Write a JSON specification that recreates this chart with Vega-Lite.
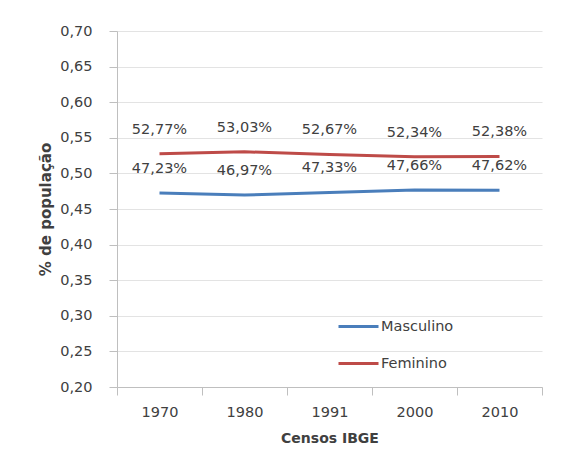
{
  "$schema": "https://vega.github.io/schema/vega-lite/v6.json",
  "width": 425,
  "height": 356,
  "autosize": {"type": "none"},
  "padding": {"left": 117, "top": 31, "right": 20, "bottom": 79},
  "background": "white",
  "config": {
    "locale": {"number": {"decimal": ",", "thousands": ".", "grouping": [3], "currency": ["R$", ""]}},
    "view": {"stroke": null},
    "font": "DejaVu Sans",
    "axis": {"labelFont": "DejaVu Sans", "labelFontSize": 14.5, "labelColor": "#404040", "titleFont": "DejaVu Sans", "titleFontSize": 14, "titleFontWeight": "bold", "titleColor": "#404040", "domainColor": "#BFBFBF", "tickColor": "#BFBFBF", "gridColor": "#E3E3E3"}
  },
  "data": {"values": [
    {"ano": "1970", "sexo": "Masculino", "valor": 0.4723},
    {"ano": "1980", "sexo": "Masculino", "valor": 0.4697},
    {"ano": "1991", "sexo": "Masculino", "valor": 0.4733},
    {"ano": "2000", "sexo": "Masculino", "valor": 0.4766},
    {"ano": "2010", "sexo": "Masculino", "valor": 0.4762},
    {"ano": "1970", "sexo": "Feminino", "valor": 0.5277},
    {"ano": "1980", "sexo": "Feminino", "valor": 0.5303},
    {"ano": "1991", "sexo": "Feminino", "valor": 0.5267},
    {"ano": "2000", "sexo": "Feminino", "valor": 0.5234},
    {"ano": "2010", "sexo": "Feminino", "valor": 0.5238}
  ]},
  "encoding": {
    "x": {"field": "ano", "type": "ordinal", "bandPosition": 0.5,
      "scale": {"type": "band", "paddingInner": 0, "paddingOuter": 0},
      "axis": {"title": "Censos IBGE", "labelAngle": 0, "tickBand": "extent", "tickSize": 8, "labelPadding": 10, "titlePadding": 13, "grid": false}},
    "y": {"field": "valor", "type": "quantitative",
      "scale": {"domain": [0.2, 0.7], "nice": false, "zero": false},
      "axis": {"title": "% de população", "titleFontSize": 15, "values": [0.2, 0.25, 0.3, 0.35, 0.4, 0.45, 0.5, 0.55, 0.6, 0.65, 0.7], "format": ".2f", "tickSize": 8, "labelPadding": 17, "titlePadding": 6, "grid": true}}
  },
  "layer": [
    {
      "mark": {"type": "line", "strokeWidth": 3},
      "encoding": {
        "color": {"field": "sexo", "type": "nominal",
          "scale": {"domain": ["Masculino", "Feminino"], "range": ["#4A7EBB", "#BE4B48"]},
          "legend": {"title": null, "orient": "none", "legendX": 220, "legendY": 274, "symbolType": "stroke", "symbolSize": 1600, "symbolStrokeWidth": 3, "labelFont": "DejaVu Sans", "labelFontSize": 14.5, "labelColor": "#404040", "labelOffset": 1, "rowPadding": 9, "padding": 0}}
      }
    },
    {
      "mark": {"type": "text", "dy": -24, "baseline": "middle", "font": "DejaVu Sans", "fontSize": 14.5, "color": "#404040"},
      "encoding": {"text": {"field": "valor", "type": "quantitative", "format": ".2%"}}
    }
  ]
}
